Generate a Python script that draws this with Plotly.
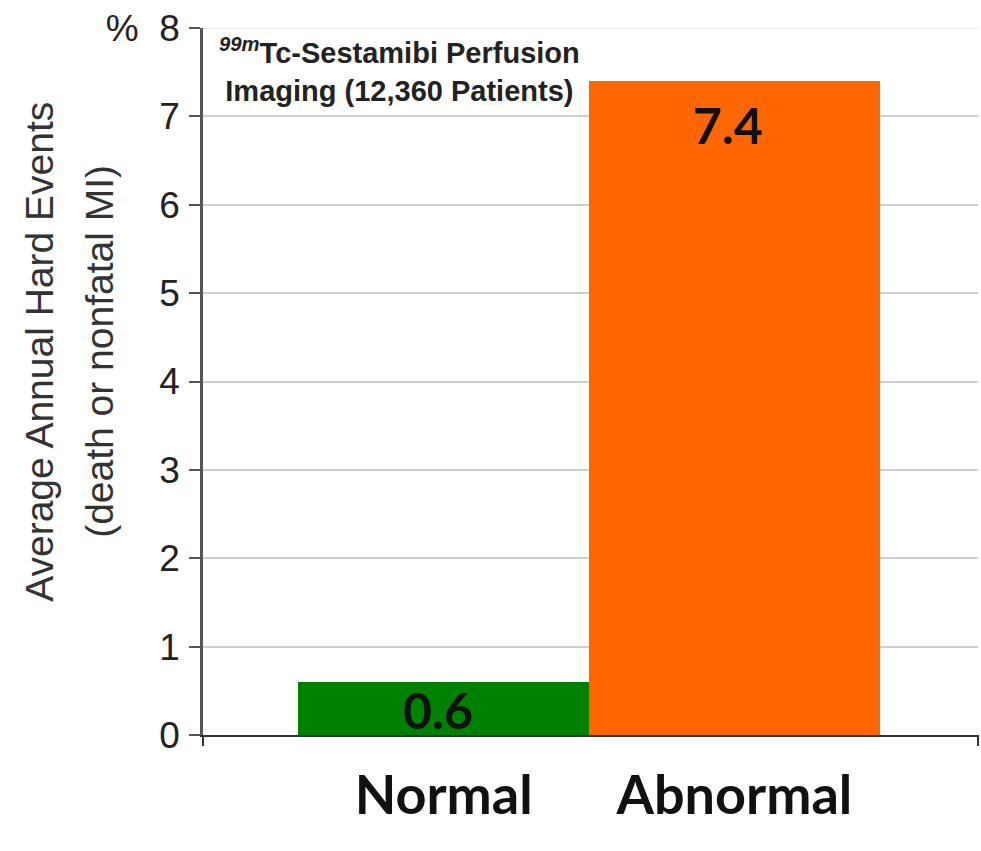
import plotly.graph_objects as go

# Average annual hard-event rate by perfusion result
categories = ["Normal", "Abnormal"]
event_rates = [0.6, 7.4]
bar_colors = ["#008000", "#FF6600"]
y_ticks = [0, 1, 2, 3, 4, 5, 6, 7, 8]
y_tick_labels = ["0", "1", "2", "3", "4", "5", "6", "7", "%  8"]

positions = list(range(len(categories)))

fig = go.Figure()
fig.add_trace(go.Bar(
    x=positions,
    y=event_rates,
    width=1.0,
    marker=dict(color=bar_colors, line=dict(width=0)),
    hoverinfo="skip",
    showlegend=False,
))

# Value labels inside the bars
value_font = dict(family="Lato, 'Open Sans', sans-serif", size=50, color="#111111")
fig.add_annotation(x=positions[0], y=event_rates[0] / 2, xref="x", yref="y",
                   text=f"<b>{event_rates[0]:.1f}</b>", showarrow=False,
                   font=value_font, yanchor="middle", yshift=-2, xshift=-6)
fig.add_annotation(x=positions[1], y=event_rates[1], xref="x", yref="y",
                   text=f"<b>{event_rates[1]:.1f}</b>", showarrow=False,
                   font=value_font, yanchor="top", yshift=-12, xshift=-6)

# Study description in the upper left of the plot
fig.add_annotation(
    x=0.254, y=0.9406, xref="paper", yref="paper",
    text="<b><sup><i>99m</i></sup>Tc-Sestamibi Perfusion<br>Imaging (12,360 Patients)</b>",
    showarrow=False, align="center", xanchor="center", yanchor="middle",
    font=dict(family="'Liberation Sans', Arial, sans-serif", size=29, color="#222222"),
)

# Two-line rotated y-axis title
title_font = dict(family="'Liberation Sans', Arial, sans-serif", size=39, color="#333333")
fig.add_annotation(x=-0.2103, y=0.542, xref="paper", yref="paper",
                   text="Average Annual Hard Events", textangle=-90, showarrow=False,
                   font=title_font, xanchor="center", yanchor="middle")
fig.add_annotation(x=-0.1329, y=0.542, xref="paper", yref="paper",
                   text="(death or nonfatal MI)", textangle=-90, showarrow=False,
                   font=title_font, xanchor="center", yanchor="middle")

# Tick marks at both ends of the category axis
for xp in (0, 1):
    fig.add_shape(type="line", xref="paper", yref="paper",
                  x0=xp, x1=xp, y0=0, y1=-11 / 707,
                  line=dict(color="#333333", width=2))

# Top grid line at the axis maximum
fig.add_shape(type="line", xref="paper", yref="y", x0=0, x1=1, y0=8, y1=8,
              line=dict(color="#e2e2e2", width=1.5), layer="below")

fig.update_layout(
    width=981, height=851,
    margin=dict(l=203, r=3, t=28, b=116),
    paper_bgcolor="white", plot_bgcolor="white",
    bargap=0,
)
fig.update_xaxes(
    range=[-0.8276, 1.838],
    tickvals=positions, ticktext=[f"<b>{c}</b>" for c in categories],
    tickfont=dict(family="Lato, 'Open Sans', sans-serif", size=54, color="#111111"),
    ticks="", ticklabelstandoff=12,
    showline=True, linecolor="#333333", linewidth=2,
    showgrid=False, zeroline=False,
)
fig.update_yaxes(
    range=[0, 8],
    tickvals=y_ticks, ticktext=y_tick_labels,
    tickfont=dict(family="'Liberation Sans', Arial, sans-serif", size=37, color="#222222"),
    ticks="outside", ticklen=11, tickwidth=2, tickcolor="#555555",
    ticklabelstandoff=2,
    showline=True, linecolor="#555555", linewidth=2.5,
    showgrid=True, gridcolor="#cfcfcf", gridwidth=1.5,
    zeroline=False,
)

fig.write_html("out.html")
